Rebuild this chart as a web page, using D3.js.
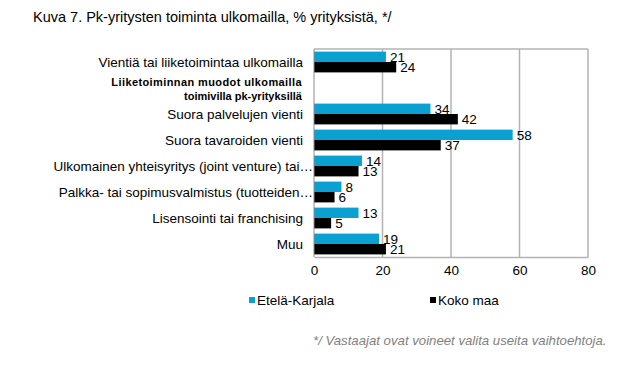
<!DOCTYPE html>
<html>
<head>
<meta charset="utf-8">
<script src="https://cdn.jsdelivr.net/npm/d3@7"></script>
<style>
  body { margin: 0; background: #fff; }
  svg { font-family: "Liberation Sans", Arial, sans-serif; }
</style>
</head>
<body>
<svg id="chart" width="631" height="370"></svg>
<script>
// data
var categories = [
  "Vientiä tai liiketoimintaa ulkomailla",
  "Liiketoiminnan muodot ulkomailla|toimivilla pk-yrityksillä",
  "Suora palvelujen vienti",
  "Suora tavaroiden vienti",
  "Ulkomainen yhteisyritys (joint venture) tai…",
  "Palkka- tai sopimusvalmistus (tuotteiden…",
  "Lisensointi tai franchising",
  "Muu"
];
var etelaKarjala = [21, null, 34, 58, 14, 8, 13, 19];
var kokoMaa = [24, null, 42, 37, 13, 6, 5, 21];
var xTicks = [0, 20, 40, 60, 80];
var seriesNames = ["Etelä-Karjala", "Koko maa"];
var colors = ["#0aa0d2", "#000000"];

var svg = d3.select("#chart");
var m = { left: 314, right: 588, top: 49, bottom: 257 };

var x = d3.scaleLinear().domain([0, 80]).range([m.left, m.right]);
var y = d3.scaleBand().domain(d3.range(categories.length)).range([m.top, m.bottom]).paddingInner(0.2).paddingOuter(0.1);
var sub = d3.scaleBand().domain([0, 1]).range([0, y.bandwidth()]);

svg.append("text").attr("x", 33).attr("y", 22).attr("font-size", 14.5).attr("fill", "#000")
  .text("Kuva 7. Pk-yritysten toiminta ulkomailla, % yrityksistä, */");

// grid lines
svg.append("g").selectAll("line").data(xTicks.slice(1)).enter().append("line")
  .attr("x1", d => x(d)).attr("x2", d => x(d))
  .attr("y1", m.top).attr("y2", m.bottom)
  .attr("stroke", "#b3b3b3").attr("stroke-width", 1.5);
svg.append("line").attr("x1", m.left).attr("x2", m.right).attr("y1", m.top).attr("y2", m.top)
  .attr("stroke", "#b3b3b3").attr("stroke-width", 1.5);

// x axis
var xAxis = svg.append("g").attr("transform", "translate(0," + m.bottom + ")")
  .call(d3.axisBottom(x).tickValues(xTicks).tickSize(0).tickPadding(8));
xAxis.select(".domain").attr("stroke", "#b3b3b3").attr("stroke-width", 1.5);
xAxis.selectAll("text").attr("font-size", 13.5).attr("fill", "#000").attr("font-family", "Liberation Sans, Arial, sans-serif");

// bars
var series = [etelaKarjala, kokoMaa];
series.forEach(function (vals, si) {
  var g = svg.append("g");
  var rows = vals.map((v, i) => ({ v: v, i: i })).filter(d => d.v !== null);
  g.selectAll("rect").data(rows).enter().append("rect")
    .attr("x", x(0)).attr("y", d => y(d.i) + sub(si))
    .attr("width", d => x(d.v) - x(0)).attr("height", sub.bandwidth())
    .attr("fill", colors[si]);
  g.selectAll("text").data(rows).enter().append("text")
    .attr("x", d => x(d.v) + 4).attr("y", d => y(d.i) + sub(si) + sub.bandwidth() / 2 + 5)
    .attr("font-size", 13.5).attr("fill", "#000")
    .text(d => d.v);
});

// left axis line
svg.append("line").attr("x1", m.left).attr("x2", m.left).attr("y1", m.top).attr("y2", m.bottom)
  .attr("stroke", "#8c8c8c").attr("stroke-width", 1);

// category labels
var labels = svg.append("g");
categories.forEach(function (c, i) {
  var cy = y(i) + y.bandwidth() / 2;
  if (c.indexOf("|") >= 0) {
    var parts = c.split("|");
    var t = labels.append("text").attr("text-anchor", "end").attr("font-size", 11)
      .attr("font-weight", "bold").attr("fill", "#000");
    t.append("tspan").attr("x", 302).attr("y", cy - 2).attr("letter-spacing", 0.4).text(parts[0]);
    t.append("tspan").attr("x", 302).attr("y", cy + 12).text(parts[1]);
  } else {
    var trunc = c.endsWith("…");
    labels.append("text").attr("text-anchor", "end")
      .attr("x", trunc ? 313 : 303).attr("y", cy + 5)
      .attr("font-size", 13.5).attr("fill", "#000").text(c);
  }
});

// legend
var legendX = [249, 430];
seriesNames.forEach(function (n, i) {
  svg.append("rect").attr("x", legendX[i]).attr("y", 297).attr("width", 6).attr("height", 6).attr("fill", colors[i]);
  svg.append("text").attr("x", legendX[i] + 8).attr("y", 305).attr("font-size", 13.5).attr("fill", "#000").text(n);
});

// footnote
svg.append("text").attr("x", 313).attr("y", 345).attr("font-size", 13.2).attr("font-style", "italic")
  .attr("fill", "#7f7f7f").text("*/ Vastaajat ovat voineet valita useita vaihtoehtoja.");
</script>
</body>
</html>
